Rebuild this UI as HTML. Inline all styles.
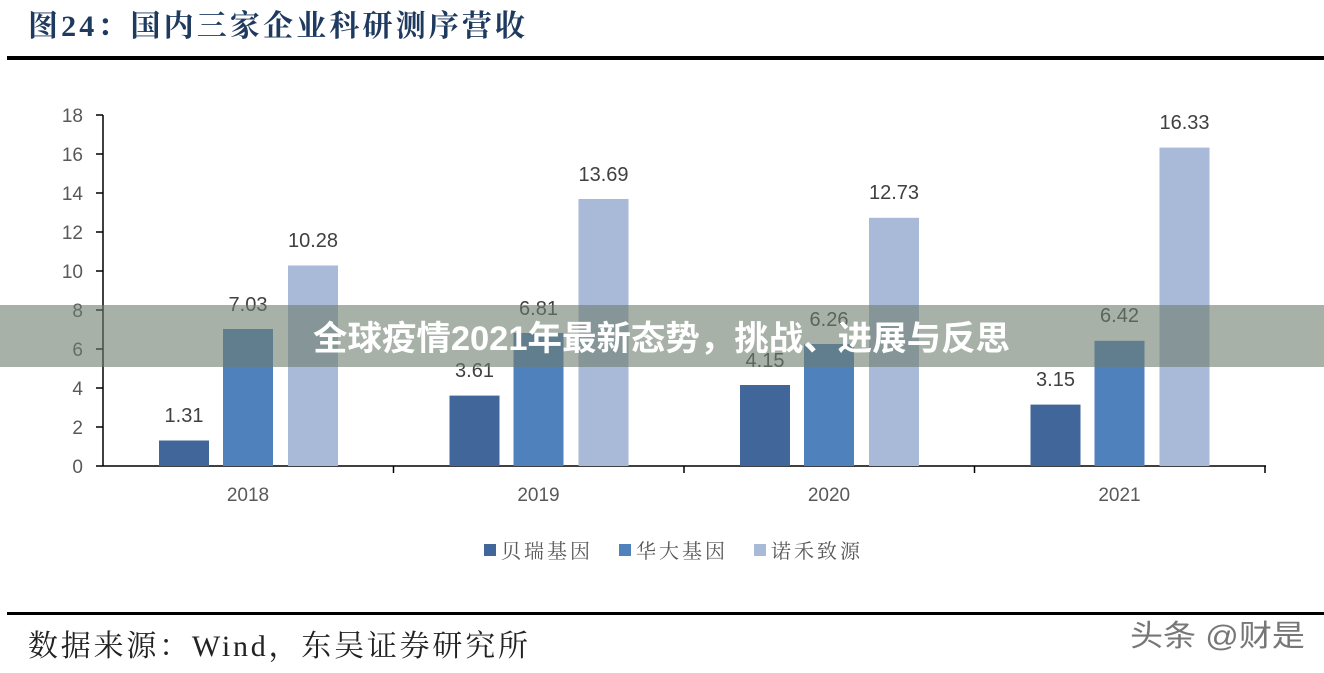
<!DOCTYPE html>
<html><head><meta charset="utf-8"><style>
body{margin:0;width:1324px;height:673px;background:#fff;overflow:hidden}
svg{display:block}
</style></head><body>
<svg width="1324" height="673" xmlns="http://www.w3.org/2000/svg">
<text x="28" y="36" textLength="497" lengthAdjust="spacing" font-family="'Liberation Serif','Noto Serif CJK SC',serif" font-weight="bold" font-size="30" fill="#1f3a5f">图24：国内三家企业科研测序营收</text>
<rect x="7" y="56" width="1317" height="4" fill="#000"/>
<g font-family="'Liberation Sans',sans-serif" font-size="19" fill="#595959" text-anchor="end">
<text x="83" y="473">0</text><text x="83" y="434">2</text><text x="83" y="395">4</text><text x="83" y="356">6</text><text x="83" y="317">8</text><text x="83" y="278">10</text><text x="83" y="239">12</text><text x="83" y="200">14</text><text x="83" y="161">16</text><text x="83" y="122">18</text>
</g>
<g stroke="#000" stroke-width="1.5">
<line x1="103" y1="115" x2="103" y2="466"/>
<line x1="96" y1="466" x2="1266" y2="466"/>
<line x1="96" y1="427" x2="103" y2="427"/><line x1="96" y1="388" x2="103" y2="388"/><line x1="96" y1="349" x2="103" y2="349"/><line x1="96" y1="310" x2="103" y2="310"/><line x1="96" y1="271" x2="103" y2="271"/><line x1="96" y1="232" x2="103" y2="232"/><line x1="96" y1="193" x2="103" y2="193"/><line x1="96" y1="154" x2="103" y2="154"/><line x1="96" y1="115" x2="103" y2="115"/>
<line x1="393.5" y1="466" x2="393.5" y2="473"/><line x1="684" y1="466" x2="684" y2="473"/><line x1="974.5" y1="466" x2="974.5" y2="473"/><line x1="1265" y1="466" x2="1265" y2="473"/>
</g>
<g>
<rect x="159" y="440.5" width="50" height="25.5" fill="#41669a"/>
<rect x="223" y="329" width="50" height="137" fill="#4f81bd"/>
<rect x="288" y="265.5" width="50" height="200.5" fill="#a9b9d8"/>
<rect x="449.5" y="395.6" width="50" height="70.4" fill="#41669a"/>
<rect x="513.5" y="333" width="50" height="133" fill="#4f81bd"/>
<rect x="578.5" y="199" width="50" height="267" fill="#a9b9d8"/>
<rect x="740" y="385" width="50" height="81" fill="#41669a"/>
<rect x="804" y="344" width="50" height="122" fill="#4f81bd"/>
<rect x="869" y="217.8" width="50" height="248.2" fill="#a9b9d8"/>
<rect x="1030.5" y="404.6" width="50" height="61.4" fill="#41669a"/>
<rect x="1094.5" y="340.8" width="50" height="125.2" fill="#4f81bd"/>
<rect x="1159.5" y="147.6" width="50" height="318.4" fill="#a9b9d8"/>
</g>
<g font-family="'Liberation Sans',sans-serif" font-size="20" fill="#404040" text-anchor="middle">
<text x="184" y="422">1.31</text><text x="248" y="311">7.03</text><text x="313" y="247">10.28</text>
<text x="474.5" y="377">3.61</text><text x="538.5" y="315">6.81</text><text x="603.5" y="181">13.69</text>
<text x="765" y="367">4.15</text><text x="829" y="326">6.26</text><text x="894" y="199">12.73</text>
<text x="1055.5" y="386">3.15</text><text x="1119.5" y="322">6.42</text><text x="1184.5" y="129">16.33</text>
</g>
<g font-family="'Liberation Sans',sans-serif" font-size="19" fill="#595959" text-anchor="middle">
<text x="248" y="501">2018</text><text x="538.5" y="501">2019</text><text x="829" y="501">2020</text><text x="1119.5" y="501">2021</text>
</g>
<g font-family="'Liberation Serif','Noto Serif CJK SC',serif" font-size="20" fill="#595959">
<rect x="484" y="544" width="12" height="12" fill="#41669a"/><text x="501" y="558" textLength="89">贝瑞基因</text>
<rect x="619" y="544" width="12" height="12" fill="#4f81bd"/><text x="636" y="558" textLength="89">华大基因</text>
<rect x="754" y="544" width="12" height="12" fill="#a9b9d8"/><text x="771" y="558" textLength="89">诺禾致源</text>
</g>
<rect x="0" y="305" width="1324" height="62" fill="rgb(110,125,110)" fill-opacity="0.6"/>
<text x="313" y="350" textLength="697" lengthAdjust="spacingAndGlyphs" font-family="'Liberation Sans','Noto Sans CJK SC',sans-serif" font-weight="bold" font-size="34" fill="#fff">全球疫情2021年最新态势，挑战、进展与反思</text>
<rect x="7" y="612" width="1317" height="3" fill="#000"/>
<text x="28" y="656" textLength="500" lengthAdjust="spacing" font-family="'Liberation Serif','Noto Serif CJK SC',serif" font-size="30" fill="#222">数据来源：Wind，东吴证券研究所</text>
<text x="1130" y="646" textLength="175" lengthAdjust="spacingAndGlyphs" font-family="'Liberation Sans','Noto Sans CJK SC',sans-serif" font-size="30" fill="#555" fill-opacity="0.8">头条 @财是</text>
</svg>
</body></html>
